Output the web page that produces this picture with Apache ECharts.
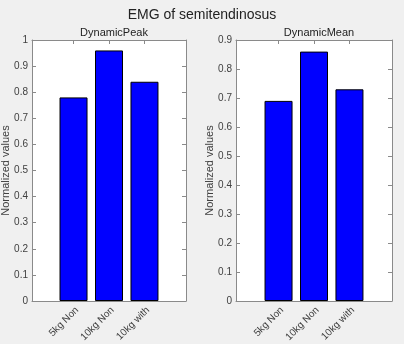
<!DOCTYPE html>
<html><head><meta charset="utf-8">
<script src="https://cdn.jsdelivr.net/npm/echarts@6/dist/echarts.min.js"></script>
<style>html,body{margin:0;padding:0;background:#f0f0f0}#c{width:404px;height:344px}</style>
</head><body><div id="c"></div>
<script>
var categories = ['5kg Non', '10kg Non', '10kg with'];
var peakValues = [0.78, 0.96, 0.84];
var meanValues = [0.69, 0.86, 0.73];
var positions = [1, 2, 3];
var mainTitle = 'EMG of semitendinosus';
var subTitles = ['DynamicPeak', 'DynamicMean'];
var yName = 'Normalized values';

var FONT = 'Liberation Sans, Arial, sans-serif';
var axisCol = '#8a8a8a';
var labCol = '#404040';
var chart = echarts.init(document.getElementById('c'), null, {renderer: 'canvas'});

function pairs(vals) { return vals.map(function (v, i) { return [positions[i], v]; }); }
function xBottom(gi, min, max) {
  return {type: 'value', gridIndex: gi, min: min, max: max, position: 'bottom',
    axisLine: {show: true, onZero: false, lineStyle: {color: axisCol, width: 1}},
    axisTick: {show: true, inside: true, length: 4, customValues: positions, lineStyle: {color: axisCol}},
    axisLabel: {show: true, customValues: positions, rotate: 45, margin: 4, verticalAlign: 'top', fontSize: 10, color: labCol, fontFamily: FONT,
      formatter: function (v) { var i = positions.indexOf(v); return i >= 0 ? categories[i] : ''; }},
    splitLine: {show: false}};
}
function xTop(gi, min, max) {
  return {type: 'value', gridIndex: gi, min: min, max: max, position: 'top',
    axisLine: {show: true, onZero: false, lineStyle: {color: axisCol, width: 1}},
    axisTick: {show: true, inside: true, length: 4, customValues: positions, lineStyle: {color: axisCol}},
    axisLabel: {show: false}, splitLine: {show: false}};
}
function yLeft(gi, max) {
  return {type: 'value', gridIndex: gi, min: 0, max: max, interval: 0.1, position: 'left',
    name: yName, nameLocation: 'middle', nameGap: 21, nameRotate: 90, nameMoveOverlap: false,
    nameTextStyle: {fontSize: 11, color: labCol, fontFamily: FONT},
    axisLine: {show: true, onZero: false, lineStyle: {color: axisCol, width: 1}},
    axisTick: {show: true, inside: true, length: 4, lineStyle: {color: axisCol}},
    axisLabel: {fontSize: 10, color: labCol, fontFamily: FONT, margin: 4,
      formatter: function (v) { return String(Math.round(v * 10) / 10); }},
    splitLine: {show: false}};
}
function yRight(gi, max) {
  return {type: 'value', gridIndex: gi, min: 0, max: max, interval: 0.1, position: 'right',
    axisLine: {show: true, onZero: false, lineStyle: {color: axisCol, width: 1}},
    axisTick: {show: true, inside: true, length: 4, lineStyle: {color: axisCol}},
    axisLabel: {show: false}, splitLine: {show: false}};
}
var barStyle = {color: '#0000ff', borderColor: '#000000', borderWidth: 1};

chart.setOption({
  backgroundColor: '#f0f0f0',
  animation: false,
  title: [
    {text: mainTitle, left: 'center', top: 3, textStyle: {fontSize: 14, fontWeight: 'normal', color: '#222', fontFamily: FONT}},
    {text: subTitles[0], left: 109, top: 22, textAlign: 'center', textStyle: {fontSize: 11, fontWeight: 'normal', color: '#222', fontFamily: FONT}},
    {text: subTitles[1], left: 314, top: 22, textAlign: 'center', textStyle: {fontSize: 11, fontWeight: 'normal', color: '#222', fontFamily: FONT}}
  ],
  grid: [
    {left: 32, top: 40, width: 154, height: 261, show: true, backgroundColor: '#ffffff', borderWidth: 0, containLabel: false, outerBoundsMode: 'none'},
    {left: 236, top: 40, width: 156, height: 261, show: true, backgroundColor: '#ffffff', borderWidth: 0, containLabel: false, outerBoundsMode: 'none'}
  ],
  xAxis: [xBottom(0, -0.17, 4.17), xTop(0, -0.17, 4.17), xBottom(1, -0.2, 4.2), xTop(1, -0.2, 4.2)],
  yAxis: [yLeft(0, 1), yRight(0, 1), yLeft(1, 0.9), yRight(1, 0.9)],
  series: [
    {type: 'bar', xAxisIndex: 0, yAxisIndex: 0, barWidth: 28, data: pairs(peakValues), itemStyle: barStyle},
    {type: 'bar', xAxisIndex: 2, yAxisIndex: 2, barWidth: 28, data: pairs(meanValues), itemStyle: barStyle}
  ]
});
</script></body></html>
